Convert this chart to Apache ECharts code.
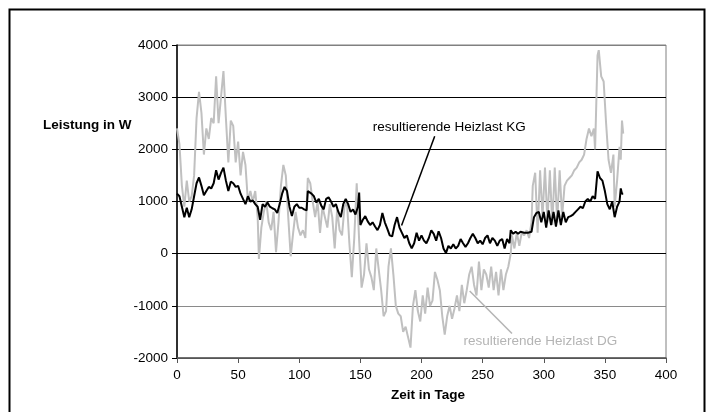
<!DOCTYPE html>
<html>
<head>
<meta charset="utf-8">
<script src="https://cdn.jsdelivr.net/npm/echarts@6/dist/echarts.min.js"></script>
<style>
  html, body { margin: 0; padding: 0; background: #fff; }
  #chart { width: 711px; height: 412px; }
</style>
</head>
<body>
<div id="chart"></div>
<script>
// Resulting heating load over the year: basement (KG) and attic (DG), in W per day.
const daysKG = [0,2,4,6,8,10,12,14,16,18,20,22,24,26,28,30,32,34,36,38,40,42,44,46,48,50,52,54,56,58,60,62,64,66,68,70,72,74,76,78,80,82,84,86,88,90,92,94,96,98,100,102,104,106,107,110,112,114,116,118,120,122,124,126,128,130,132,134,136,138,140,142,144,146,148,149,150,152,154,156,158,160,162,164,166,168,170,172,174,176,178,180,182,184,186,188,190,192,194,196,198,200,202,204,206,208,210,212,214,216,218,220,222,224,226,228,230,232,234,236,238,240,242,244,246,248,250,252,254,256,258,260,262,264,266,268,270,272,273,275,277,279,281,284,287,290,292,294,296,298,300,302,304,306,308,310,312,314,316,318,320,322,324,326,328,330,332,334,336,338,340,342,344,346,348,350,352,354,356,358,360,361,362,363,364,365];
const loadKG = [1150,1100,900,700,880,700,850,1100,1350,1460,1300,1120,1200,1280,1250,1350,1600,1420,1550,1650,1400,1200,1380,1350,1280,1300,1150,1050,950,1100,1000,1020,950,900,650,950,900,980,900,870,850,780,950,1150,1280,1200,900,720,900,950,880,880,850,830,1200,1150,1100,980,1050,920,850,1050,1080,1000,900,950,800,700,950,1050,950,800,850,750,900,1170,550,650,720,620,550,600,520,450,550,780,600,480,350,330,550,700,500,400,300,350,200,100,200,400,250,350,250,200,300,450,380,250,430,300,100,10,150,100,180,100,150,280,200,130,200,300,380,300,200,250,180,300,350,200,300,250,150,250,280,100,280,200,450,380,420,380,420,400,400,420,700,780,800,600,800,500,830,550,800,520,830,550,800,600,700,720,750,800,850,900,870,1000,1050,1000,1100,1050,1580,1450,1400,1200,950,850,1000,700,900,950,1000,1250,1150,1150];

const daysDG = [0,2,4,6,8,10,12,14,16,18,20,22,24,26,28,30,32,34,36,38,40,42,44,46,48,50,52,54,56,58,60,62,64,66,67,69,71,73,75,77,79,81,83,85,87,89,91,93,95,97,99,101,103,105,107,109,111,113,115,117,119,121,123,125,127,129,131,133,135,137,139,141,143,145,147,149,151,153,155,157,159,161,163,165,167,169,171,173,175,177,179,181,183,185,187,189,191,193,195,197,199,201,203,205,207,209,211,213,215,217,219,221,223,225,227,229,231,233,235,237,239,241,243,245,247,249,251,253,255,257,259,261,263,265,267,269,271,273,274,276,278,280,282,284,286,288,290,291,293,295,297,299,301,303,305,307,309,311,313,315,317,319,321,323,325,327,329,331,333,335,337,339,341,342,344,345,347,349,351,353,355,357,358,360,362,363,364,365];
const loadDG = [2400,2100,1300,900,1400,1000,1100,1500,2600,3100,2700,1900,2400,2200,2600,2500,3400,2500,3000,3500,2600,1750,2550,2450,1750,2150,1500,1950,1700,1000,1200,1000,1200,700,-100,500,800,1000,600,450,800,30,600,1300,1700,1500,700,-50,400,800,500,350,450,300,1450,1350,1000,700,1000,400,900,700,500,950,700,100,850,450,350,900,1000,200,-450,300,1350,250,-650,-400,200,-300,-450,-700,100,-300,-700,-1200,-1100,-250,100,-400,-1000,-1150,-1200,-1500,-1400,-1600,-1800,-1000,-700,-1100,-1300,-800,-1150,-650,-1000,-900,-350,-500,-700,-1200,-1550,-1200,-1000,-1250,-1050,-800,-1100,-600,-950,-700,-400,-250,-600,-800,-150,-700,-300,-400,-650,-250,-700,-350,-800,-300,-700,-400,-250,0,350,100,400,150,400,350,450,300,600,1300,1550,400,1600,700,1650,600,1600,550,1650,600,1600,700,1300,1400,1450,1500,1600,1650,1750,1800,1900,2200,2400,2250,2400,2000,3800,3900,3400,3300,2500,1800,1550,1900,900,1400,2050,1800,2550,2300];

const xTicks = { min: 0, max: 400, step: 50 };
const yTicks = { min: -2000, max: 4000, step: 1000 };

// Annotation labels and their leader lines, in day / W units.
const labelKG = { text: 'resultierende Heizlast KG', at: [222.7, 2420], from: [183.7, 541], to: [210.8, 2249] };
const labelDG = { text: 'resultierende Heizlast DG', at: [297.2, -1671], from: [239.4, -715], to: [274.0, -1530] };

const pair = (xs, ys) => xs.map((x, i) => [x, ys[i]]);
const FONT = 'Liberation Sans, Arial, sans-serif';
const plain = v => String(v);

const chart = echarts.init(document.getElementById('chart'), null, { renderer: 'canvas' });

function annotation(lbl, color) {
  return {
    markLine: {
      silent: true,
      symbol: ['none', 'none'],
      lineStyle: { color: color, width: 1.5, type: 'solid' },
      label: { show: false },
      data: [[{ coord: lbl.from }, { coord: lbl.to }]]
    },
    markPoint: {
      silent: true,
      symbol: 'circle',
      symbolSize: 0,
      data: [{ coord: lbl.at }],
      label: {
        show: true,
        position: 'inside',
        formatter: lbl.text,
        color: color,
        fontFamily: FONT,
        fontSize: 13.5
      }
    }
  };
}

chart.setOption({
  animation: false,
  backgroundColor: '#ffffff',
  grid: {
    left: 177, right: 45, top: 45, bottom: 54,
    show: true, borderColor: '#808080', borderWidth: 1, backgroundColor: 'transparent'
  },
  xAxis: {
    type: 'value',
    min: xTicks.min, max: xTicks.max, interval: xTicks.step,
    axisLine: { show: true, onZero: false, lineStyle: { color: '#555', width: 1.5 } },
    axisTick: { show: true, inside: false, length: 5, lineStyle: { color: '#555' } },
    splitLine: { show: false },
    axisLabel: { color: '#000', fontFamily: FONT, fontSize: 13.5, margin: 10, formatter: plain }
  },
  yAxis: {
    type: 'value',
    min: yTicks.min, max: yTicks.max, interval: yTicks.step,
    axisLine: { show: true, onZero: false, lineStyle: { color: '#000', width: 1.5 } },
    axisTick: { show: true, inside: false, length: 5, lineStyle: { color: '#000' } },
    splitLine: {
      show: true,
      lineStyle: { color: ['#555', '#8a8a8a', '#000', '#000', '#000', '#000', '#808080'], width: 1.2 }
    },
    axisLabel: { color: '#000', fontFamily: FONT, fontSize: 13.5, margin: 9, formatter: plain }
  },
  graphic: [
    { type: 'rect', left: 7, top: 7, shape: { width: 695, height: 430 },
      style: { fill: 'none', stroke: '#000', lineWidth: 2 }, silent: true, z: 100 },
    { type: 'text', left: 43, top: 118,
      style: { text: 'Leistung in W', font: 'bold 13.5px ' + FONT, fill: '#000' } },
    { type: 'text', left: 391, top: 388,
      style: { text: 'Zeit in Tage', font: 'bold 13.5px ' + FONT, fill: '#000' } }
  ],
  series: [
    Object.assign({
      name: 'resultierende Heizlast DG',
      type: 'line',
      data: pair(daysDG, loadDG),
      showSymbol: false,
      symbol: 'none',
      lineStyle: { color: '#c0c0c0', width: 2 },
      z: 2
    }, annotation(labelDG, '#b4b4b4')),
    Object.assign({
      name: 'resultierende Heizlast KG',
      type: 'line',
      data: pair(daysKG, loadKG),
      showSymbol: false,
      symbol: 'none',
      lineStyle: { color: '#000', width: 2 },
      z: 3
    }, annotation(labelKG, '#000'))
  ]
});
</script>
</body>
</html>
